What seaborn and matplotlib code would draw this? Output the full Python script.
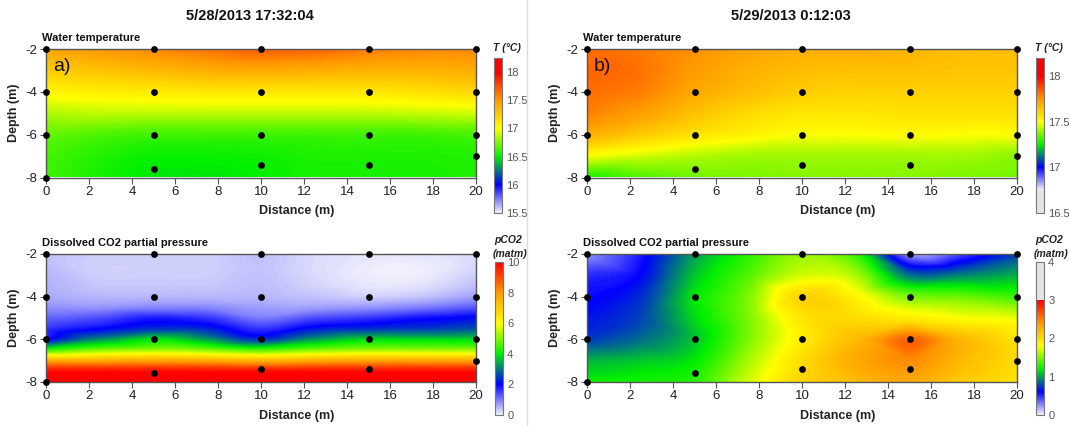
import numpy as np
import pandas as pd
import matplotlib
matplotlib.use("Agg")
import matplotlib.pyplot as plt
import matplotlib.tri as mtri
from matplotlib.colors import LinearSegmentedColormap, Normalize
from matplotlib.cm import ScalarMappable
import seaborn as sns

# ---------------- data ----------------
titles = ["5/28/2013 17:32:04", "5/29/2013 0:12:03"]
panel_tags = ["a)", "b)"]
row_titles = ["Water temperature", "Dissolved CO2 partial pressure"]

# sampling stations (distance m, depth m)
sample_x = [0, 0, 0, 0, 5, 5, 5, 5, 10, 10, 10, 10, 15, 15, 15, 15, 20, 20, 20, 20]
sample_depth = [-2, -4, -6, -8, -2, -4, -6, -7.6, -2, -4, -6, -7.4,
                -2, -4, -6, -7.4, -2, -4, -6, -7]

grid_x = [0, 2.5, 5, 7.5, 10, 12.5, 15, 17.5, 20]
depth_std = [-2, -3, -4, -5, -6, -7, -8]
depth_co2a = [-2, -3, -4, -4.5, -5, -5.5, -6, -6.5, -7, -7.5, -8]

temp_a = [
    [17.45, 17.50, 17.56, 17.63, 17.70, 17.68, 17.60, 17.56, 17.56],
    [17.25, 17.30, 17.35, 17.40, 17.42, 17.40, 17.38, 17.38, 17.40],
    [17.05, 17.08, 17.10, 17.12, 17.12, 17.12, 17.12, 17.15, 17.20],
    [16.85, 16.88, 16.88, 16.88, 16.88, 16.88, 16.88, 16.90, 16.92],
    [16.70, 16.66, 16.63, 16.63, 16.63, 16.63, 16.63, 16.63, 16.65],
    [16.64, 16.57, 16.52, 16.52, 16.53, 16.56, 16.56, 16.56, 16.57],
    [16.62, 16.54, 16.48, 16.48, 16.50, 16.54, 16.54, 16.54, 16.56],
]
temp_b = [
    [17.82, 17.80, 17.76, 17.72, 17.70, 17.70, 17.68, 17.66, 17.66],
    [17.83, 17.81, 17.74, 17.69, 17.66, 17.65, 17.65, 17.64, 17.64],
    [17.82, 17.79, 17.71, 17.66, 17.62, 17.61, 17.61, 17.61, 17.61],
    [17.79, 17.73, 17.65, 17.59, 17.56, 17.56, 17.57, 17.57, 17.57],
    [17.70, 17.63, 17.57, 17.53, 17.50, 17.50, 17.51, 17.50, 17.50],
    [17.50, 17.46, 17.43, 17.41, 17.41, 17.41, 17.41, 17.41, 17.39],
    [17.28, 17.33, 17.36, 17.37, 17.38, 17.38, 17.38, 17.37, 17.36],
]
pco2_a = [
    [0.4, 0.3, 0.3, 0.3, 0.4, 0.2, 0.1, 0.1, 0.2],
    [0.5, 0.3, 0.3, 0.3, 0.4, 0.2, 0.05, 0.05, 0.3],
    [0.6, 0.5, 0.5, 0.5, 0.5, 0.4, 0.3, 0.4, 0.7],
    [0.8, 0.8, 0.9, 0.9, 0.7, 0.7, 0.8, 1.0, 1.3],
    [1.2, 1.4, 1.8, 1.6, 1.0, 1.4, 1.6, 1.9, 2.1],
    [1.6, 2.0, 2.4, 2.3, 1.6, 2.2, 2.4, 2.5, 2.7],
    [2.0, 3.2, 3.9, 3.3, 2.4, 3.3, 3.8, 3.8, 3.8],
    [4.4, 5.0, 5.2, 5.0, 4.6, 5.0, 5.2, 5.2, 5.2],
    [7.6, 7.6, 7.7, 7.6, 7.4, 7.6, 7.7, 7.7, 7.7],
    [9.8, 9.8, 9.8, 9.8, 9.8, 9.8, 9.8, 9.8, 9.8],
    [10.0, 10.0, 10.0, 10.0, 10.0, 10.0, 10.0, 10.0, 10.0],
]
pco2_b = [
    [0.25, 0.55, 1.00, 1.30, 1.55, 1.30, 0.25, 0.45, 0.75],
    [0.50, 0.62, 1.10, 1.40, 1.70, 1.60, 0.90, 0.95, 1.05],
    [0.58, 0.72, 1.18, 1.50, 2.05, 1.85, 1.50, 1.45, 1.35],
    [0.65, 0.78, 1.15, 1.50, 1.95, 2.00, 1.90, 1.80, 1.75],
    [0.75, 0.88, 1.10, 1.50, 1.90, 2.20, 2.60, 2.20, 1.95],
    [1.05, 1.10, 1.20, 1.60, 2.00, 2.30, 2.45, 2.20, 2.00],
    [1.20, 1.25, 1.30, 1.70, 2.05, 2.20, 2.30, 2.10, 1.95],
]

temp_a_ticks = [15.5, 16, 16.5, 17, 17.5, 18]
temp_b_ticks = [16.5, 17, 17.5, 18]
pco2_a_ticks = [0, 2, 4, 6, 8, 10]
pco2_b_ticks = [0, 1, 2, 3, 4]
x_ticks = list(range(0, 21, 2))
y_ticks = [-2, -4, -6, -8]

# ---------------- style ----------------
sns.set_style("white")
plt.rcParams["font.family"] = ["Liberation Sans", "DejaVu Sans"]
plt.rcParams["axes.unicode_minus"] = False

WHITE = "#f0f0fc"
BLUE = "#0000ff"
GREEN = "#00f000"
YELLOW = "#ffff00"
ORANGE = "#ff9900"
RED = "#ff0000"
GRAY = "#e4e4e4"


def rainbow(stops):
    cols = [WHITE, BLUE, GREEN, YELLOW, ORANGE, RED]
    return [(s, c) for s, c in zip(stops, cols)]


cmap_ta = LinearSegmentedColormap.from_list(
    "ta", rainbow([0, 0.1818, 0.3636, 0.5454, 0.7272, 0.909]) + [(1, RED)])
cmap_tb = LinearSegmentedColormap.from_list(
    "tb", [(0, GRAY), (0.146, GRAY)] +
    rainbow([0.147, 0.294, 0.441, 0.588, 0.735, 0.882]) + [(1, RED)])
cmap_pa = LinearSegmentedColormap.from_list(
    "pa", rainbow([0, 0.2, 0.4, 0.6, 0.8, 1.0]))
cmap_pb = LinearSegmentedColormap.from_list(
    "pb", rainbow([0, 0.15, 0.3, 0.45, 0.6, 0.75]) + [(0.7505, GRAY), (1, GRAY)])

W, H = 1070, 426
fig = plt.figure(figsize=(W / 100, H / 100), dpi=100)


def fbox(l, t, r, b):
    return [l / W, 1 - b / H, (r - l) / W, (b - t) / H]


def field(ax, depths, vals, cmap, norm):
    gx, gy = np.meshgrid(np.array(grid_x, float), np.array(depths, float))
    tri = mtri.Triangulation(gx.ravel(), gy.ravel())
    interp = mtri.CubicTriInterpolator(tri, np.array(vals, float).ravel(), kind="geom")
    xi = np.linspace(1e-6, 20 - 1e-6, 401)
    yi = np.linspace(-8 + 1e-6, -2 - 1e-6, 151)
    XI, YI = np.meshgrid(xi, yi)
    zi = np.ma.filled(interp(XI, YI), np.nan)
    ax.imshow(zi, extent=[0, 20, -8, -2], origin="lower", aspect="auto",
              cmap=cmap, norm=norm, interpolation="bilinear")


samples = pd.DataFrame({"x": sample_x, "depth": sample_depth})

panels = [
    (fbox(46, 49, 476, 177.5), depth_std, temp_a, cmap_ta, Normalize(15.5, 18.25),
     fbox(494, 58, 502, 213), temp_a_ticks, ["T (°C)"], 0, 0),
    (fbox(587, 49, 1017, 177.5), depth_std, temp_b, cmap_tb, Normalize(16.5, 18.2),
     fbox(1036, 58, 1044, 213), temp_b_ticks, ["T (°C)"], 1, 0),
    (fbox(46, 254, 476, 382), depth_co2a, pco2_a, cmap_pa, Normalize(0, 10),
     fbox(495, 262, 503, 415), pco2_a_ticks, ["pCO2", "(matm)"], 0, 1),
    (fbox(587, 254, 1017, 382), depth_std, pco2_b, cmap_pb, Normalize(0, 4),
     fbox(1036, 262, 1044, 415), pco2_b_ticks, ["pCO2", "(matm)"], 1, 1),
]

for box, depths, vals, cmap, norm, cbox, cticks, ctitle, col, row in panels:
    ax = fig.add_axes(box)
    field(ax, depths, vals, cmap, norm)
    sns.scatterplot(data=samples, x="x", y="depth", ax=ax, color="black",
                    s=24, edgecolor="black", linewidth=0, zorder=5, clip_on=False,
                    legend=False)
    ax.set_xlim(0, 20)
    ax.set_ylim(-8, -2)
    ax.set_xticks(x_ticks)
    ax.set_yticks(y_ticks)
    ax.tick_params(axis="both", direction="out", length=4, width=0.8,
                   labelsize=9.5, colors="#555555", labelcolor="#222222", pad=2,
                   bottom=True, left=True)
    for sp in ax.spines.values():
        sp.set_visible(True)
        sp.set_color("#555555")
        sp.set_linewidth(1.0)
    ax.set_xlabel("")
    ax.set_ylabel("")
    ax.text(0.584, -0.262, "Distance (m)", transform=ax.transAxes, ha="center",
            va="center", fontsize=9, fontweight="bold", color="#222222")
    ax.text(-0.074, 0.5, "Depth (m)", transform=ax.transAxes, ha="center",
            va="center", rotation=90, fontsize=9, fontweight="bold", color="#222222")
    x0 = box[0] * W
    top = (1 - box[1] - box[3]) * H
    fig.text((x0 - 4) / W, 1 - (top - 11) / H, row_titles[row], ha="left",
             va="center", fontsize=8, fontweight="bold", color="#111111")
    if row == 0:
        ax.text(0.016, 0.86, panel_tags[col], transform=ax.transAxes, ha="left",
                va="center", fontsize=14, color="#111111")
        fig.text((x0 + 204) / W, 1 - 16 / H, titles[col], ha="center", va="center",
                 fontsize=10.5, fontweight="bold", color="#111111")

    cax = fig.add_axes(cbox)
    cb = fig.colorbar(ScalarMappable(norm=norm, cmap=cmap), cax=cax)
    cb.set_ticks(cticks)
    cb.set_ticklabels([("%g" % t) for t in cticks])
    cb.ax.tick_params(length=0, labelsize=8, labelcolor="#555555", pad=3)
    cb.outline.set_edgecolor("#777777")
    cb.outline.set_linewidth(0.8)
    cx = cbox[0] * W
    ctop = (1 - cbox[1] - cbox[3]) * H
    if len(ctitle) == 1:
        fig.text((cx - 1) / W, 1 - (ctop - 10) / H, ctitle[0], ha="left", va="center",
                 fontsize=7.5, fontweight="bold", style="italic", color="#222222")
    else:
        fig.text((cx - 1) / W, 1 - (ctop - 22) / H, ctitle[0], ha="left", va="center",
                 fontsize=7.5, fontweight="bold", style="italic", color="#222222")
        fig.text((cx - 2) / W, 1 - (ctop - 8) / H, ctitle[1], ha="left", va="center",
                 fontsize=7.5, fontweight="bold", style="italic", color="#222222")

# light separator between the two halves
fig.add_artist(plt.Line2D([527 / W, 527 / W], [0, 1], transform=fig.transFigure,
                          color="#dddddd", linewidth=1))

fig.savefig("out.png", dpi=100)
